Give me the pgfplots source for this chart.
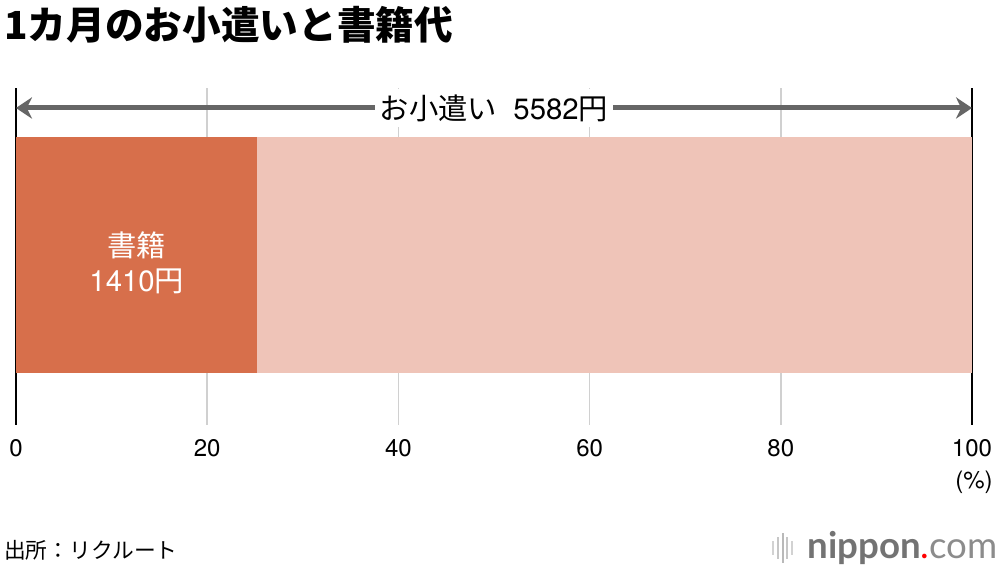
\documentclass[border=0pt]{standalone}
\usepackage{pgfplots}
\pgfplotsset{compat=1.18}
\usepackage{fontspec}
\setmainfont{TeX Gyre Heros}
\newfontfamily\jp{Noto Sans CJK JP}
\newfontfamily\logofont{Lato}
\usetikzlibrary{arrows.meta}
\definecolor{darkbar}{HTML}{D76F4B}
\definecolor{lightbar}{HTML}{EFC4B8}
\definecolor{arrowgray}{HTML}{666666}
\definecolor{gridgray}{HTML}{D0D0D0}
\begin{document}
\begin{tikzpicture}
\useasboundingbox (0,0) rectangle (750pt,427.5pt);
\node[anchor=west, inner sep=0pt] at (3pt,408.75pt) {\jp\bfseries\fontsize{29}{30}\selectfont 1カ月のお小遣いと書籍代};
\begin{axis}[
  at={(12pt,108.75pt)}, anchor=south west,
  scale only axis, width=717pt, height=252.75pt,
  xmin=0, xmax=100, ymin=0, ymax=337,
  xbar stacked, bar width=177pt,
  separate axis lines,
  x axis line style={draw=none},
  y axis line style={draw=black, line width=1.2pt},
  ytick=\empty,
  xtick={0,20,40,60,80,100},
  major tick length=0pt,
  xmajorgrids, grid style={draw=gridgray, line width=1.1pt},
  /pgf/number format/assume math mode=true,
  xticklabel style={anchor=center, yshift=-17.25pt, font=\fontsize{18}{18}\selectfont},
  clip=false,
]
\addplot[fill=darkbar, draw=none] coordinates {(25.26,170)};
\addplot[fill=lightbar, draw=none] coordinates {(74.74,170)};
\coordinate (a0) at (axis cs:0,317);
\coordinate (a1) at (axis cs:100,317);
\coordinate (lab) at (axis cs:50.0,317);
\coordinate (bt) at (axis cs:12.63,162.5);
\coordinate (pct) at (axis cs:100,0);
\end{axis}
\draw[arrowgray, line width=3.75pt, {Stealth[length=12pt,width=16pt]}-{Stealth[length=12pt,width=16pt]}] (a0) -- (a1);
\node[fill=white, inner xsep=3.5pt, inner ysep=4pt] at (lab) {\fontsize{22}{23}\selectfont{\jp お小遣い}\hspace{0.55em}5582{\jp 円}};
\node[text=white, align=center, font=\fontsize{22}{26.25}\selectfont] at (bt) {{\jp 書籍}\\1410{\jp 円}};
\node[anchor=center, font=\fontsize{18}{18}\selectfont] at ([xshift=1.5pt,yshift=-42.75pt]pct) {(\%)};
\node[anchor=west, inner sep=0pt] at (3pt,15pt) {\jp\fontsize{16.3}{16}\selectfont 出所：リクルート};
\foreach \x/\h/\c in {580/5/gray!35, 583.5/8/gray!45, 587/11/gray!55, 590.5/8/gray!45, 594/5/gray!35} {
  \draw[\c, line width=1.6pt] (\x pt,{16.5pt-\h pt}) -- (\x pt,{16.5pt+\h pt});
}
\node[anchor=base east, inner sep=0pt] at (748.5pt,8.5pt) {\logofont\fontsize{27.5}{28}\selectfont{\bfseries\color{gray!110}nippon}{\color{red}.}{\color{gray!90}com}};
\end{tikzpicture}
\end{document}
